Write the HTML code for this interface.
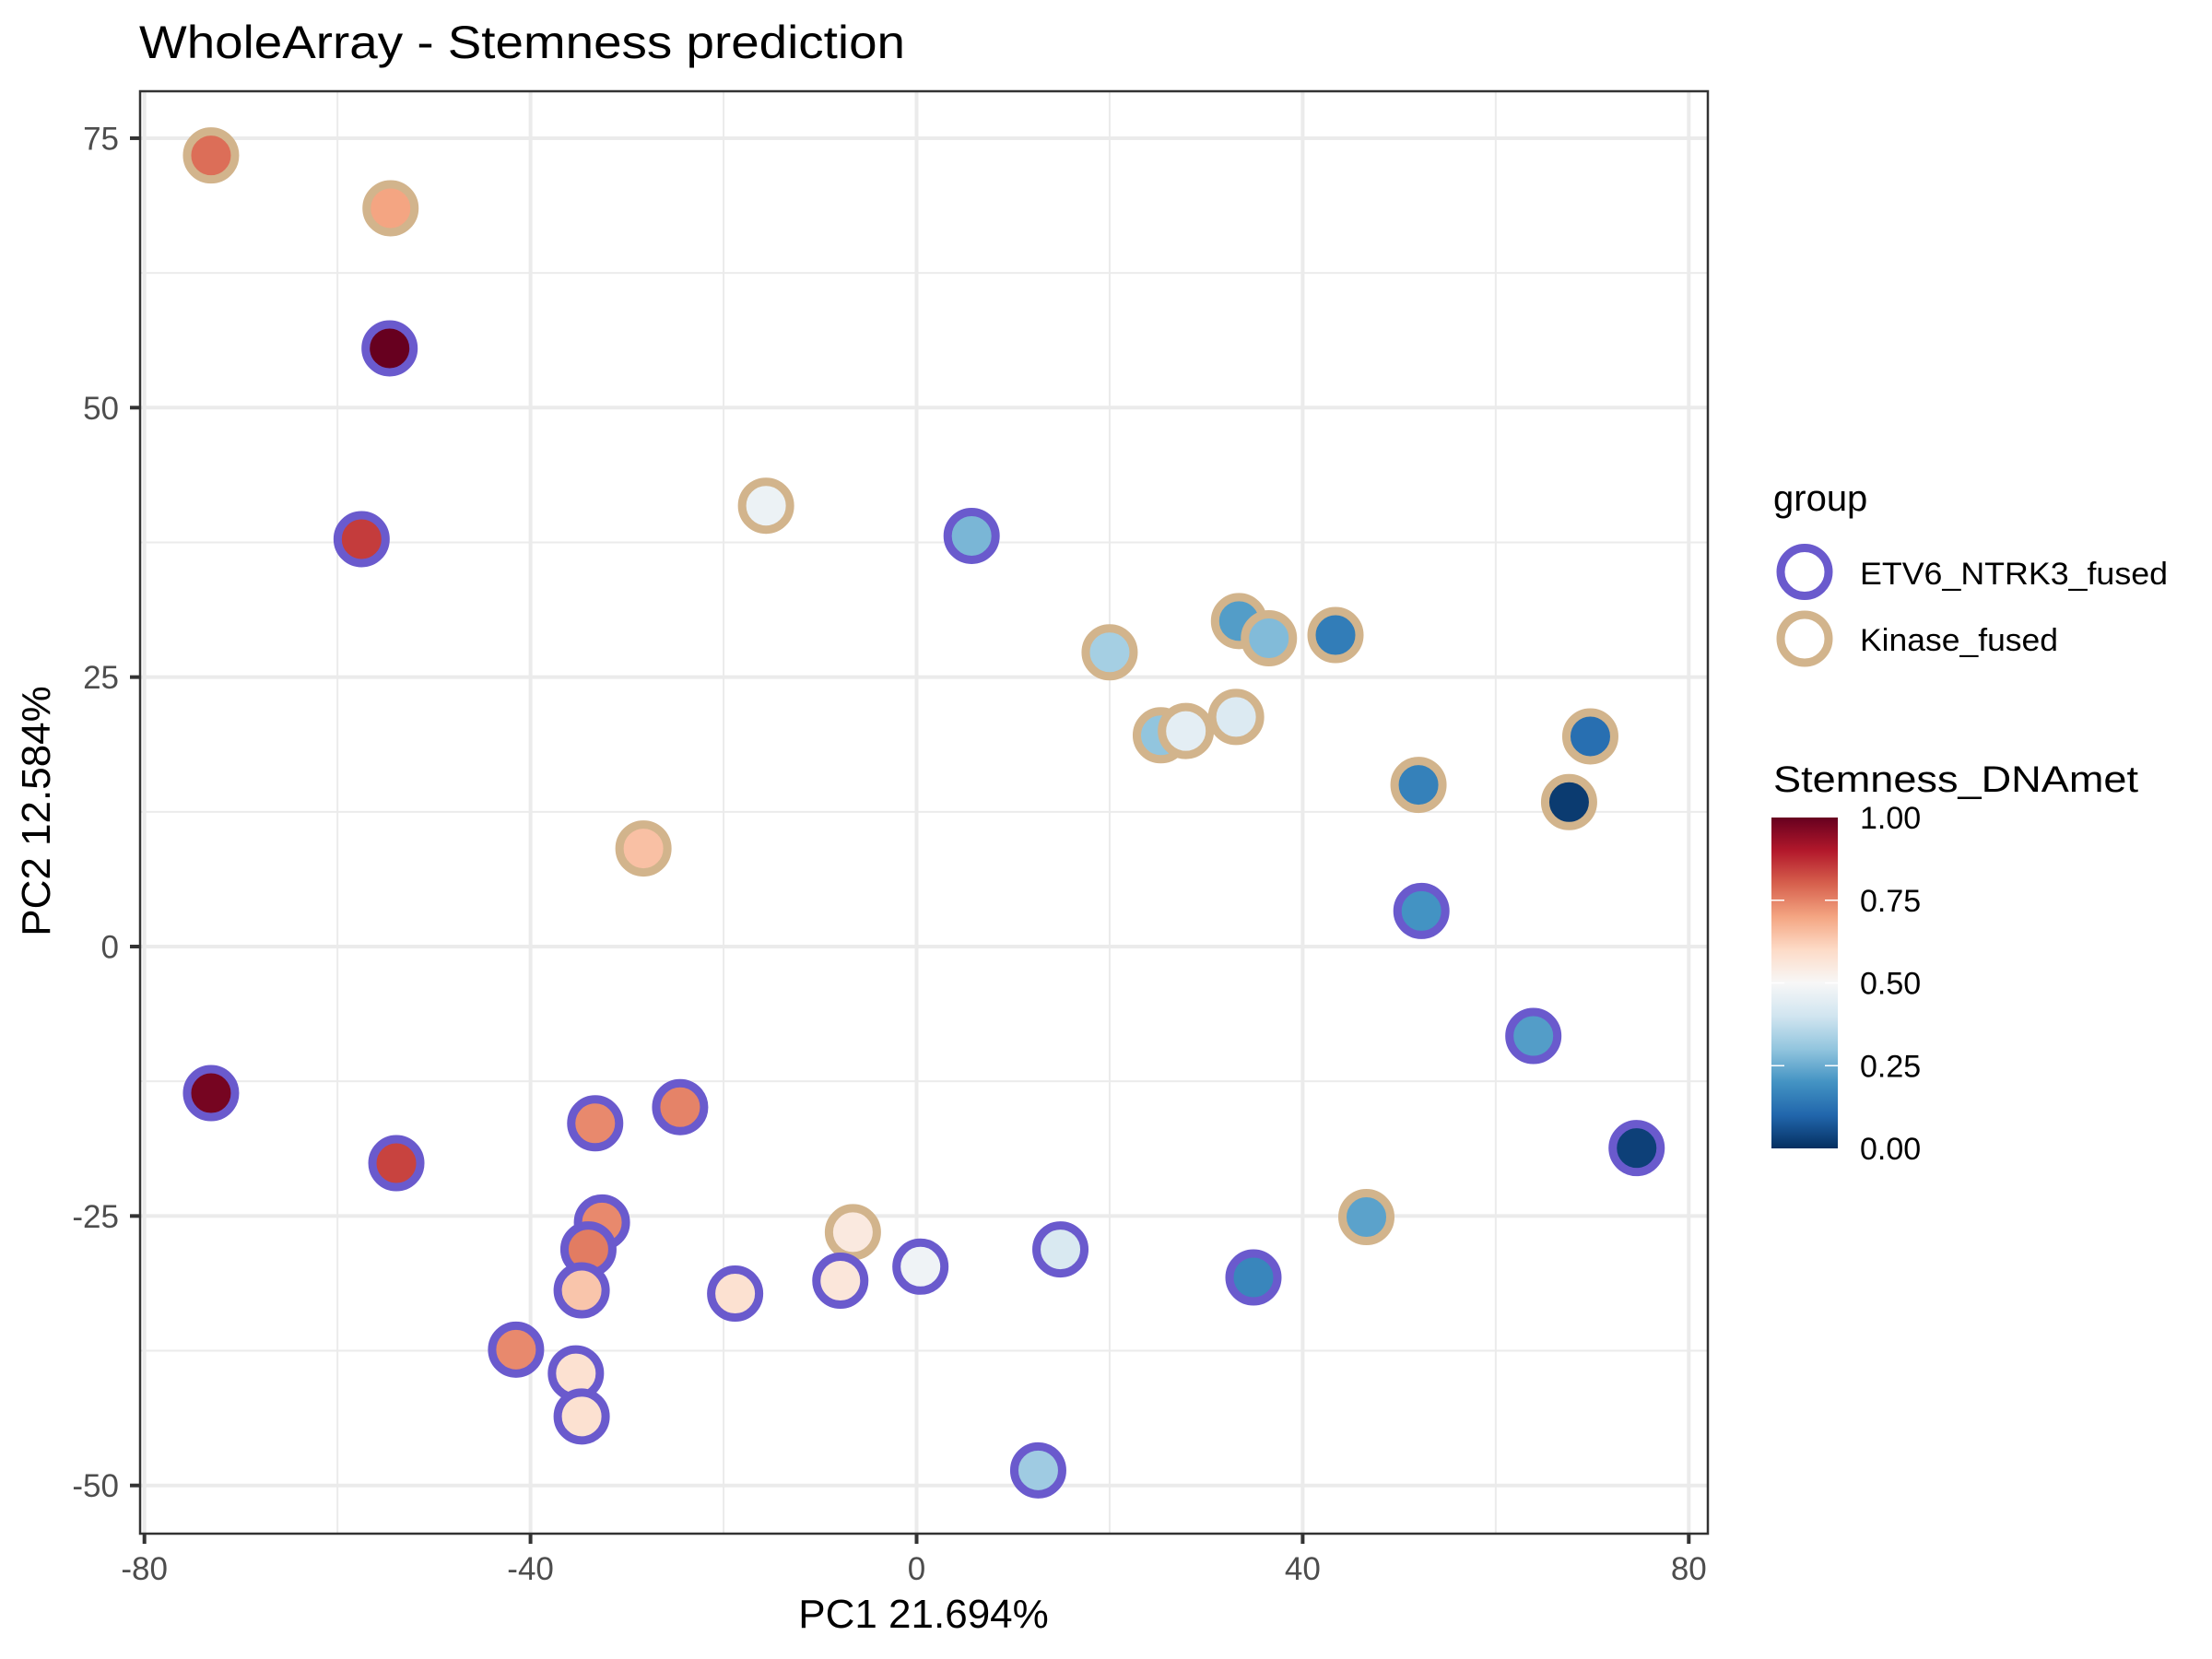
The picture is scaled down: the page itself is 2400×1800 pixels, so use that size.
<!DOCTYPE html>
<html><head><meta charset="utf-8"><title>WholeArray - Stemness prediction</title>
<style>html,body{margin:0;padding:0;background:#fff;}svg{display:block;}</style>
</head><body>
<svg id="chart" xmlns="http://www.w3.org/2000/svg" width="2400" height="1800" viewBox="0 0 2400 1800" font-family="Liberation Sans, Arial, sans-serif">
<defs>
<linearGradient id="rdbu" x1="0" y1="1" x2="0" y2="0">
<stop offset="0" stop-color="#053061"/><stop offset="0.1" stop-color="#2166ac"/><stop offset="0.2" stop-color="#4393c3"/><stop offset="0.3" stop-color="#92c5de"/><stop offset="0.4" stop-color="#d1e5f0"/><stop offset="0.5" stop-color="#f7f7f7"/><stop offset="0.6" stop-color="#fddbc7"/><stop offset="0.7" stop-color="#f4a582"/><stop offset="0.8" stop-color="#d6604d"/><stop offset="0.9" stop-color="#b2182b"/><stop offset="1" stop-color="#67001f"/>
</linearGradient>
</defs>
<rect width="2400" height="1800" fill="#fff"/>
<text x="151" y="63" font-size="50" textLength="831" lengthAdjust="spacingAndGlyphs" fill="#000">WholeArray - Stemness prediction</text>
<g id="grid"></g>
<g id="points"></g>
<rect x="152" y="99" width="1701" height="1565" fill="none" stroke="#333" stroke-width="2.5"/>
<g id="axes"></g>
<text x="1002" y="1766" font-size="44" text-anchor="middle" fill="#000">PC1 21.694%</text>
<text transform="translate(54,880) rotate(-90)" font-size="44" text-anchor="middle" fill="#000">PC2 12.584%</text>
<g id="legend">
<text x="1924" y="554" font-size="40" fill="#000">group</text>
<circle cx="1958" cy="620.5" r="26" fill="none" stroke="#6a5acd" stroke-width="9"/>
<text x="2018" y="634" font-size="34" textLength="334" lengthAdjust="spacingAndGlyphs" fill="#000">ETV6_NTRK3_fused</text>
<circle cx="1958" cy="693" r="26" fill="none" stroke="#d2b48c" stroke-width="9"/>
<text x="2018" y="706" font-size="34" textLength="215" lengthAdjust="spacingAndGlyphs" fill="#000">Kinase_fused</text>
<text x="1924" y="859" font-size="40" textLength="396" lengthAdjust="spacingAndGlyphs" fill="#000">Stemness_DNAmet</text>
<rect x="1922" y="887" width="72" height="359" fill="url(#rdbu)"/>
<g id="cbticks"></g>
</g>
</svg>
<script>
const NS = "http://www.w3.org/2000/svg";
const xVals = [-73.1,-54.5,-54.6,-57.5,-15.6,5.7,20.0,33.4,36.5,43.4,25.3,27.9,33.1,69.8,52.0,67.6,-28.3,52.3,63.9,74.6,-73.1,-53.9,-33.3,-24.5,-32.6,-34.0,-34.7,-6.6,0.4,14.9,-7.9,-18.8,34.9,46.6,-41.5,-35.3,-34.7,12.6];
const yVals = [73.4,68.5,55.5,37.8,40.9,38.1,27.3,30.2,28.6,28.9,19.6,20.0,21.3,19.5,15.0,13.4,9.1,3.3,-8.3,-18.7,-13.6,-20.1,-16.4,-14.9,-25.6,-28.1,-31.9,-26.5,-29.7,-28.1,-31.0,-32.2,-30.7,-25.1,-37.4,-39.6,-43.6,-48.6];
const stemness = [0.78,0.70,1.0,0.85,0.47,0.27,0.33,0.22,0.28,0.15,0.30,0.45,0.43,0.12,0.16,0.02,0.65,0.20,0.22,0.03,0.98,0.84,0.74,0.75,0.74,0.76,0.64,0.55,0.48,0.42,0.56,0.58,0.17,0.23,0.74,0.58,0.58,0.32];
const groups = ["K","K","E","E","K","E","K","K","K","K","K","K","K","K","K","K","K","E","E","E","E","E","E","E","E","E","E","K","E","E","E","E","E","K","E","E","E","E"];
const xTicks = [-80,-40,0,40,80];
const xMinor = [-60,-20,20,60];
const yTicks = [-50,-25,0,25,50,75];
const yMinor = [-37.5,-12.5,12.5,37.5,62.5];
const cbTicks = [0,0.25,0.5,0.75,1];
const cbLabels = ["0.00","0.25","0.50","0.75","1.00"];

const PL=152, PR=1853, PT=99, PB=1664;
const sx = v => 994.5 + v*10.4725;
const sy = v => 1027 - v*11.694;
const scb = v => 1246 - v*359;
const stops=[[0,[5,48,97]],[0.1,[33,102,172]],[0.2,[67,147,195]],[0.3,[146,197,222]],[0.4,[209,229,240]],[0.5,[247,247,247]],[0.6,[253,219,199]],[0.7,[244,165,130]],[0.8,[214,96,77]],[0.9,[178,24,43]],[1,[103,0,31]]];
function col(v){v=Math.max(0,Math.min(1,v));for(let i=0;i<stops.length-1;i++){const [a,ca]=stops[i],[b,cb]=stops[i+1];if(v<=b){const t=(v-a)/(b-a);return "rgb("+ca.map((c,k)=>Math.round(c+(cb[k]-c)*t)).join(",")+")";}}return "rgb(103,0,31)";}
function mk(tag,attrs,parent){const e=document.createElementNS(NS,tag);for(const k in attrs)e.setAttribute(k,attrs[k]);parent.appendChild(e);return e;}

const grid=document.getElementById("grid");
xMinor.forEach(v=>{const l=mk("line",{x1:sx(v),x2:sx(v),y1:PT,y2:PB,stroke:"#ebebeb","stroke-width":2},grid);

});
yMinor.forEach(v=>{const l=mk("line",{x1:PL,x2:PR,y1:sy(v),y2:sy(v),stroke:"#ebebeb","stroke-width":2},grid);

});
xTicks.forEach(v=>{const l=mk("line",{x1:sx(v),x2:sx(v),y1:PT,y2:PB,stroke:"#ebebeb","stroke-width":4},grid);

});
yTicks.forEach(v=>{const l=mk("line",{x1:PL,x2:PR,y1:sy(v),y2:sy(v),stroke:"#ebebeb","stroke-width":4},grid);

});

const pts=document.getElementById("points");
xVals.forEach((x,i)=>{const c=mk("circle",{cx:sx(x),cy:sy(yVals[i]),r:26,fill:col(stemness[i]),stroke:groups[i]==="E"?"#6a5acd":"#d2b48c","stroke-width":9},pts);

});

const ax=document.getElementById("axes");
xTicks.forEach(v=>{const t=mk("line",{x1:sx(v),x2:sx(v),y1:PB,y2:PB+11,stroke:"#333","stroke-width":4},ax);


const l=mk("text",{x:sx(v),y:1714,"font-size":35,"text-anchor":"middle",fill:"#4d4d4d"},ax);l.textContent=String(v);

});
yTicks.forEach(v=>{const t=mk("line",{x1:PL-11,x2:PL,y1:sy(v),y2:sy(v),stroke:"#333","stroke-width":4},ax);


const l=mk("text",{x:129,y:sy(v)+12.5,"font-size":35,"text-anchor":"end",fill:"#4d4d4d"},ax);l.textContent=String(v);

});

const cbt=document.getElementById("cbticks");
cbTicks.forEach((v,i)=>{
if(v>0&&v<1){const a=mk("line",{x1:1922,x2:1936,y1:scb(v),y2:scb(v),stroke:"#fff","stroke-width":1.5},cbt);


const b=mk("line",{x1:1980,x2:1994,y1:scb(v),y2:scb(v),stroke:"#fff","stroke-width":1.5},cbt);

}
const l=mk("text",{x:2018,y:scb(v)+12,"font-size":34,fill:"#000"},cbt);l.textContent=cbLabels[i];

});
</script>
</body></html>
